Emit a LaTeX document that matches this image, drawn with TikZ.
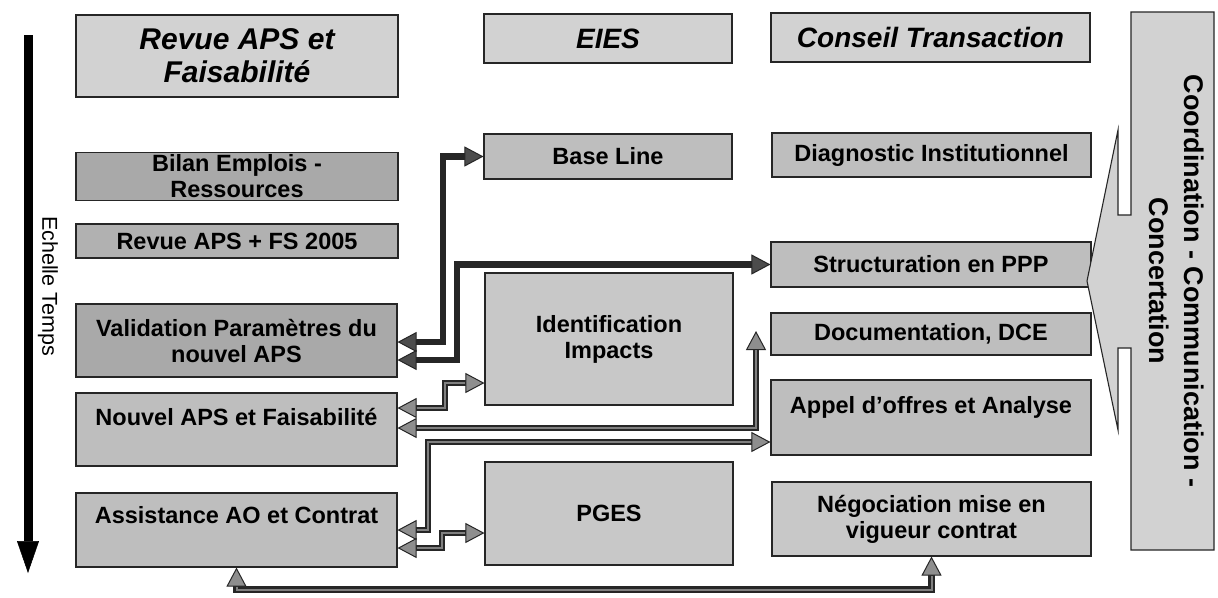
\documentclass[tikz,border=0pt]{standalone}
\usepackage{fontspec}
\setmainfont{Liberation Sans}
\usetikzlibrary{arrows.meta,calc}
\definecolor{boxmid}{HTML}{BEBEBE}
\definecolor{boxdark}{HTML}{A9A9A9}
\definecolor{boxlight}{HTML}{D2D2D2}
\definecolor{boxpale}{HTML}{C8C8C8}
\definecolor{tipgray}{HTML}{8E8E8E}
\begin{document}
\begin{tikzpicture}[x=1pt,y=-1pt,
  box/.style={draw=black!85, line width=1.1pt, fill=boxmid, inner sep=2pt, align=center,
    font=\bfseries\fontsize{23.5}{26}\selectfont},
  darkbox/.style={box, fill=boxdark},
  palebox/.style={box, fill=boxpale},
  headbox/.style={box, fill=boxlight, font=\bfseries\itshape\fontsize{28}{32}\selectfont},
  conn/.style={line width=6.5pt, draw=black!85, <->,
    postaction={draw=black!50, line width=2pt, arrows=-, shorten <=19pt, shorten >=19pt}},
  darkconn/.style={line width=6.5pt, draw=black!85, <->,
    >={Triangle[width=20pt,length=19pt,line width=1pt,fill=black!70]}},
  >={Triangle[width=20pt,length=19pt,line width=1pt,fill=tipgray]},
  timearrow/.style={line width=9pt, draw=black, -{Triangle[width=22pt,length=32pt,line width=0.5pt]}},
  callout/.style={draw=black!85, line width=1.1pt, fill=boxlight},
]
\useasboundingbox[fill=white] (0,0) rectangle (1218,597);

% time scale
\coordinate (t0) at (28,35);
\coordinate (t1) at (28,573);
\draw[timearrow] (t0) -- (t1);
\node[rotate=-90, font=\fontsize{21.5}{24}\selectfont] (ech) at (48,286) {Echelle Temps};

% headers
\node[headbox, font=\bfseries\itshape\fontsize{30}{33}\selectfont, minimum width=322pt, minimum height=82pt] (hA) at (237,56) {Revue APS et\\Faisabilit\'e};
\node[headbox, minimum width=248pt, minimum height=49pt] (hB) at (608,38.5) {EIES};
\node[headbox, minimum width=319pt, minimum height=49pt] (hC) at (930.5,37.5) {Conseil Transaction};

% left column
\node[darkbox, minimum width=322pt, minimum height=45pt] (a1) at (237,176.5)
  {\fontsize{23.5}{20}\selectfont Bilan Emplois -\\Ressources};
\node[box, fill=boxdark!60!boxmid, minimum width=322pt, minimum height=34pt] (a2) at (237,241) {Revue APS + FS 2005};
\node[darkbox, minimum width=321pt, minimum height=73pt] (a3) at (236.5,340.5) {Validation Param\`etres du\\nouvel APS};
\node[box, minimum width=321pt, minimum height=73pt] (a4) at (236.5,429.5) {Nouvel APS et Faisabilit\'e\\\mbox{}};
\node[box, minimum width=321pt, minimum height=74pt] (a5) at (236.5,530) {Assistance AO et Contrat\\[5pt]\mbox{}};

% middle column
\node[box, minimum width=248pt, minimum height=45pt] (b1) at (608,156.5) {Base Line};
\node[palebox, minimum width=248pt, minimum height=132pt] (b2) at (609,339) {Identification\\Impacts};
\node[palebox, minimum width=248pt, minimum height=103pt] (b3) at (609,513.5) {PGES};

% right column
\node[box, minimum width=319pt, minimum height=44pt] (c1) at (931.5,155) {Diagnostic Institutionnel};
\node[box, minimum width=320pt, minimum height=45pt] (c2) at (931,264.5) {Structuration en PPP};
\node[box, minimum width=320pt, minimum height=42pt] (c3) at (931,334) {Documentation, DCE};
\node[box, minimum width=320pt, minimum height=75pt] (c4) at (931,417.5) {Appel d\textquoteright offres et Analyse\\\mbox{}};
\node[palebox, minimum width=319pt, minimum height=74pt] (c5) at (931.5,519) {N\'egociation mise en\\vigueur contrat};

% callout
\draw[callout] (1131,12) -- (1214,12) -- (1214,550) -- (1131,550) -- (1131,348) -- (1118,348)
  -- (1118,430) -- (1087,281) -- (1118,130) -- (1118,215) -- (1131,215) -- cycle;
\node[rotate=-90, align=center, font=\bfseries\fontsize{27}{35}\selectfont] (cc) at (1177,281)
  {Coordination - Communication -\\Concertation};

% connectors
\coordinate (dtip) at (756,331);
\draw[darkconn] (a3.east |- 0,342) -- (443,342) |- (b1.west);
\draw[darkconn] (a3.east |- 0,360) -- (457,360) |- (c2.west);
\draw[conn] (a4.east |- 0,408) -- (445,408) |- (b2.west |- 0,383);
\draw[conn] (a4.east |- 0,428) -| (dtip);
\draw[conn] (a5.east |- 0,530) -- (428,530) |- (c4.west |- 0,442);
\draw[conn] (a5.east |- 0,548) -- (442,548) |- (b3.west |- 0,533);
\draw[conn] (a5.south) -- ++(0,22) -| (c5.south);
\end{tikzpicture}
\end{document}
